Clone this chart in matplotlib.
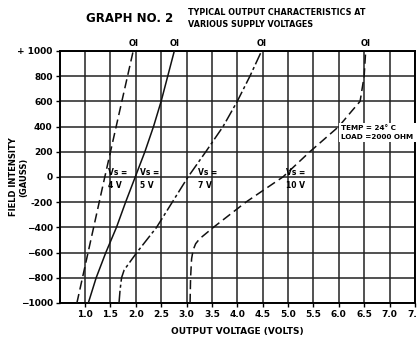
import matplotlib
matplotlib.use("Agg")
import matplotlib.pyplot as plt
import numpy as np

# Data
x_ticks = [1.0, 1.5, 2.0, 2.5, 3.0, 3.5, 4.0, 4.5, 5.0, 5.5, 6.0, 6.5, 7.0, 7.5]
x_tick_labels = ["1.0", "1.5", "2.0", "2.5", "3.0", "3.5", "4.0", "4.5", "5.0", "5.5", "6.0", "6.5", "7.0", "7.5"]
y_ticks = [1000, 800, 600, 400, 200, 0, -200, -400, -600, -800, -1000]
y_tick_labels = ["+ 1000", "800", "600", "400", "200", "0", "-200", "\u2212400", "\u2212600", "\u2212800", "\u22121000"]

v4_volts = [0.84, 1.39, 1.95]
v4_gauss = [-1000, 0, 1000]

v5_volts = [1.065, 1.22, 1.41, 1.62, 1.80, 1.99, 2.18, 2.35, 2.50, 2.63, 2.76]
v5_gauss = [-1000, -800, -600, -400, -200, 0, 200, 400, 600, 800, 1000]

v7_volts = [1.67, 1.69, 1.72, 1.77, 1.84, 2.02, 2.41, 2.72, 3.03, 3.38, 3.72, 4.00, 4.25, 4.48]
v7_gauss = [-1000, -900, -800, -740, -700, -600, -400, -200, 0, 200, 400, 600, 800, 1000]

v10_volts = [3.07, 3.08, 3.10, 3.13, 3.18, 3.26, 3.53, 4.17, 4.90, 5.43, 6.00, 6.25, 6.42, 6.50, 6.53]
v10_gauss = [-1000, -800, -650, -580, -530, -490, -400, -200, 0, 200, 400, 520, 600, 800, 1000]

curve_labels = ["Vs =\n4 V", "Vs =\n5 V", "Vs =\n7 V", "Vs =\n10 V"]
top_marks = [1.95, 2.76, 4.48, 6.53]

fig = plt.figure(figsize=(4.17, 3.37), dpi=100)
ax = fig.add_axes([0.143, 0.101, 0.852, 0.748])
ax.set_xlim(0.5, 7.5)
ax.set_ylim(-1000, 1000)

# grid
for gx in np.arange(0.5, 7.51, 0.5):
    ax.axvline(gx, color="#222222", lw=1.1, zorder=1)
for gy in range(-1000, 1001, 200):
    ax.axhline(gy, color="#222222", lw=1.1, zorder=1)

ax.set_xticks(x_ticks)
ax.set_xticklabels(x_tick_labels, fontsize=6.5, fontweight="bold")
ax.set_yticks(y_ticks)
ax.set_yticklabels(y_tick_labels, fontsize=6.5, fontweight="bold")
ax.tick_params(axis="both", length=3, width=1, color="black", pad=2)
for s in ax.spines.values():
    s.set_linewidth(1.4)

lc = "#111111"
ax.plot(v4_volts, v4_gauss, color=lc, lw=1.1, dashes=(6, 3), zorder=3)
ax.plot(v5_volts, v5_gauss, color=lc, lw=1.1, zorder=3)
ax.plot(v7_volts, v7_gauss, color=lc, lw=1.1, dashes=(8, 2, 2, 2), zorder=3)
ax.plot(v10_volts, v10_gauss, color=lc, lw=1.1, dashes=(6, 3), zorder=3)

label_pos = [(1.45, 70), (2.08, 70), (3.22, 70), (4.96, 70)]
for (lx, ly), t in zip(label_pos, curve_labels):
    ax.text(lx, ly, t, fontsize=5.5, fontweight="bold", ha="left", va="top",
            linespacing=1.5, zorder=4)

for tm in top_marks:
    ax.text(tm, 1025, "OI", fontsize=6, fontweight="bold", ha="center", va="bottom",
            clip_on=False)

ax.text(6.05, 350, "TEMP = 24\u00b0 C\nLOAD =2000 OHM", fontsize=5.2, fontweight="bold",
        ha="left", va="center", linespacing=1.6, zorder=5,
        bbox=dict(facecolor="white", edgecolor="none", pad=1.5))

ax.set_xlabel("OUTPUT VOLTAGE (VOLTS)", fontsize=6.5, fontweight="bold", labelpad=6)
fig.text(0.045, 0.475, "FIELD INTENSITY\n(GAUSS)", fontsize=6, fontweight="bold",
         rotation=90, ha="center", va="center", linespacing=1.2)

fig.text(0.312, 0.945, "GRAPH NO. 2", fontsize=8.5, fontweight="bold", ha="center", va="center")
fig.text(0.45, 0.945, "TYPICAL OUTPUT CHARACTERISTICS AT\nVARIOUS SUPPLY VOLTAGES",
         fontsize=5.8, fontweight="bold", ha="left", va="center", linespacing=1.3)

fig.savefig("out.png", dpi=100)
